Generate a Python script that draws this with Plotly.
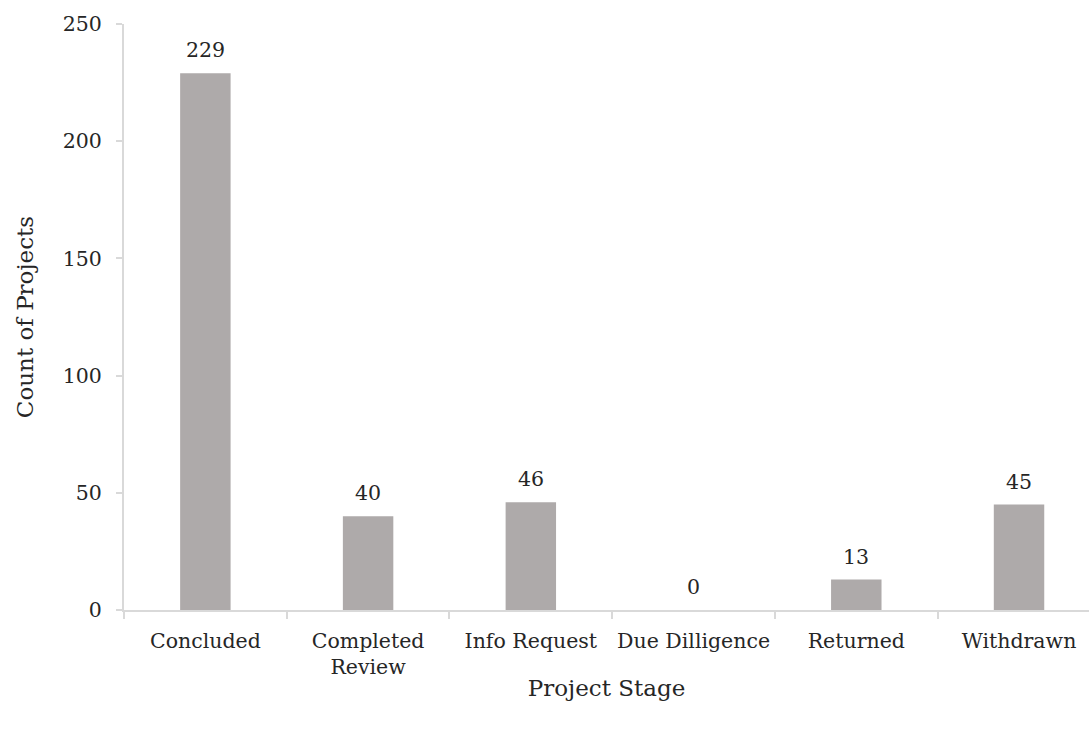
import plotly.graph_objects as go

# Project counts by stage
stages = ["Concluded", "Completed<br>Review", "Info Request", "Due Dilligence", "Returned", "Withdrawn"]
counts = [229, 40, 46, 0, 13, 45]
y_ticks = [0, 50, 100, 150, 200, 250]

FONT = "DejaVu Serif"
TEXT = "#262626"
AXIS = "#d9d9d9"
BAR = "#aeaaaa"

fig = go.Figure()
fig.add_trace(go.Bar(
    x=stages,
    y=counts,
    marker=dict(color=BAR, line=dict(width=0)),
    hoverinfo="x+y",
))

# Value labels above each bar
for s, c in zip(stages, counts):
    fig.add_annotation(
        x=s, y=c, text=str(c), showarrow=False,
        yanchor="bottom", yshift=9,
        font=dict(family=FONT, size=20.5, color=TEXT),
    )

fig.update_layout(
    width=1089,
    height=730,
    margin=dict(l=124, r=0, t=24, b=120),
    plot_bgcolor="white",
    paper_bgcolor="white",
    bargap=0.69,
    showlegend=False,
    font=dict(family=FONT, size=20.5, color=TEXT),
)

fig.update_xaxes(
    range=[-0.5, 5.43],
    automargin=False,
    tickangle=0,
    showline=True, linecolor=AXIS, linewidth=2,
    ticks="outside", tickson="boundaries", ticklen=7, tickcolor=AXIS, tickwidth=2,
    tickfont=dict(family=FONT, size=20.5, color=TEXT),
    ticklabelstandoff=11,
    showgrid=False, zeroline=False,
    title=dict(text="Project Stage", font=dict(family=FONT, size=23, color=TEXT), standoff=2),
)

fig.update_yaxes(
    range=[0, 250],
    automargin=False,
    tickvals=y_ticks,
    showline=True, linecolor=AXIS, linewidth=2,
    ticks="outside", ticklen=6, tickcolor=AXIS, tickwidth=2,
    tickfont=dict(family=FONT, size=20.5, color=TEXT),
    ticklabelstandoff=10,
    showgrid=False, zeroline=False,
    title=dict(text="Count of Projects", font=dict(family=FONT, size=23, color=TEXT), standoff=23),
)

fig.write_html("out.html")
